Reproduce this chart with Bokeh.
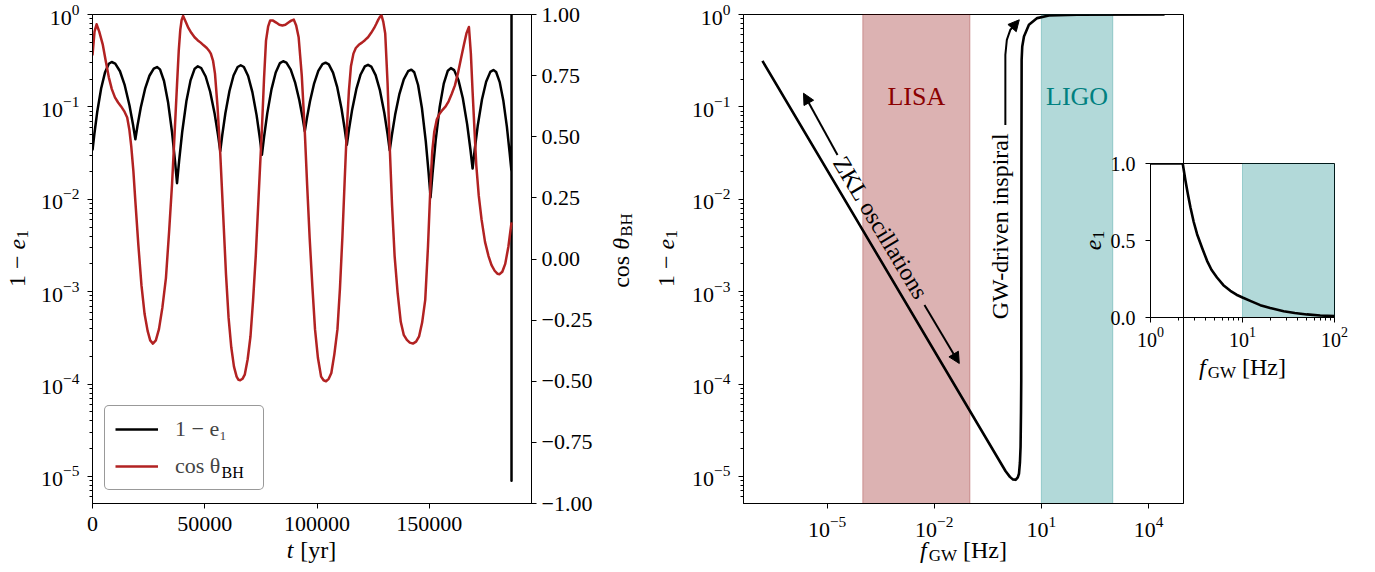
import math
from bokeh.plotting import figure
from bokeh.models import (Range1d, LinearAxis, LinearScale, FixedTicker, Label, Arrow,
                          NormalHead, BoxAnnotation, Legend, LegendItem, LogTickFormatter,
                          CustomJSTickFormatter)
from bokeh.layouts import row
from bokeh.embed import file_html
from bokeh.resources import INLINE

FONT = "Liberation Serif"

# ---------------- data: left panel ----------------
t_black = [0, 855, 2136, 3845, 5554, 7263, 8545, 10127, 12236, 14345, 16454, 18036, 19090,
           20054, 21500, 23428, 25356, 27284, 28730, 30067, 31849, 33631, 35413, 36749, 37640,
           38566, 39955, 41807, 43659, 45511, 46900, 48400, 50400, 52400, 54400, 55900, 56900,
           57810, 59175, 60995, 62815, 64635, 66000, 67418, 69308, 71198, 73088, 74505, 75450,
           76395, 77813, 79703, 81593, 83483, 84900, 86347, 88276, 90205, 92134, 93581, 94545,
           95471, 96859, 98710, 100561, 102412, 103800, 105221, 107115, 109009, 110903, 112323,
           113270, 114213, 115628, 117514, 119400, 121286, 122700, 124149, 126081, 128013,
           129945, 131394, 132360, 133324, 134770, 136698, 138626, 140554, 142000, 143282,
           144991, 146700, 148409, 149691, 150545, 151451, 152809, 154620, 156431, 158242,
           159600, 161051, 162985, 164919, 166853, 168303, 169270, 170198, 171589, 173444,
           175299, 177154, 178545, 179745, 181345, 182945, 184545, 185745, 186600, 186600,
           186600]
# log10(1 - e1)
log10_one_minus_e_black = [
    -1.47, -1.288, -1.049, -0.801, -0.629, -0.533, -0.514,
    -0.531, -0.614, -0.765, -0.982, -1.191, -1.35,
    -1.202, -1.006, -0.803, -0.663, -0.585, -0.569,
    -0.594, -0.720, -0.946, -1.273, -1.587, -1.826,
    -1.586, -1.269, -0.940, -0.713, -0.586, -0.561,
    -0.579, -0.671, -0.836, -1.075, -1.304, -1.478,
    -1.301, -1.069, -0.828, -0.660, -0.568, -0.549,
    -0.568, -0.665, -0.840, -1.092, -1.334, -1.518,
    -1.326, -1.073, -0.810, -0.627, -0.526, -0.506,
    -0.521, -0.597, -0.734, -0.931, -1.121, -1.265,
    -1.124, -0.938, -0.745, -0.611, -0.537, -0.522,
    -0.540, -0.629, -0.789, -1.020, -1.242, -1.411,
    -1.246, -1.030, -0.805, -0.649, -0.562, -0.545,
    -0.563, -0.656, -0.822, -1.063, -1.294, -1.47,
    -1.304, -1.086, -0.859, -0.702, -0.614, -0.597,
    -0.625, -0.763, -1.012, -1.371, -1.717, -1.98,
    -1.714, -1.364, -1.00, -0.748, -0.608, -0.58,
    -0.602, -0.711, -0.906, -1.189, -1.461, -1.668,
    -1.465, -1.198, -0.920, -0.728, -0.621, -0.60,
    -0.622, -0.732, -0.93, -1.216, -1.491, -1.7, -5.046, 0.0]
one_minus_e_black = [10 ** v for v in log10_one_minus_e_black]

t_red = [0, 900, 1818, 3000, 4545, 5900, 7270, 8600, 10000, 11400, 12730, 14100, 15450, 16400,
         17270, 18200, 19090, 20400, 21800, 23200, 24545, 25700, 26900, 28200, 29600, 31100,
         32700, 34100, 35450, 36600, 37640, 38400, 39090, 39700, 40360, 41500, 42700, 44000,
         45450, 46800, 48180, 49500, 50900, 51800, 52700, 53700, 54545, 55700, 56900, 58200,
         59450, 60600, 61800, 63000, 64180, 65000, 65800, 66800, 67800, 69100, 70360, 71500,
         72700, 74100, 75450, 76400, 77270, 78200, 79090, 80400, 81800, 83200, 84545, 85900,
         87270, 88500, 89640, 90700, 91800, 93200, 94545, 95600, 96700, 97900, 99090, 100400,
         101800, 102900, 104000, 105200, 106360, 107700, 109090, 110200, 111270, 112300,
         113270, 114200, 115090, 116200, 117270, 118600, 120000, 121300, 122700, 124100,
         125450, 126400, 127270, 128000, 128700, 129500, 130360, 131400, 132360, 133400,
         134545, 135900, 137270, 138600, 140000, 141300, 142700, 144100, 145450, 146800,
         148180, 149400, 150545, 151300, 152180, 153300, 154545, 155900, 157270, 158600,
         160000, 161400, 162700, 164100, 165450, 166600, 167640, 168500, 169270, 170100,
         170900, 172000, 173270, 174800, 176360, 177700, 179090, 180300, 181300, 182500,
         183800, 185200, 186600]
cos_theta_red = [0.833, 0.93, 0.96, 0.93, 0.878, 0.81, 0.743, 0.695, 0.661, 0.64, 0.624, 0.605,
                 0.579, 0.53, 0.46, 0.36, 0.236, 0.06, -0.107, -0.225, -0.294, -0.333, -0.346,
                 -0.333, -0.287, -0.2, -0.078, 0.11, 0.31, 0.52, 0.713, 0.85, 0.937, 0.978,
                 0.994, 0.97, 0.945, 0.925, 0.907, 0.895, 0.885, 0.874, 0.863, 0.853, 0.84,
                 0.81, 0.758, 0.62, 0.43, 0.18, -0.063, -0.24, -0.361, -0.44, -0.481, -0.494,
                 -0.496, -0.49, -0.473, -0.41, -0.316, -0.17, 0.012, 0.28, 0.534, 0.74, 0.893,
                 0.95, 0.975, 0.975, 0.967, 0.958, 0.955, 0.958, 0.967, 0.975, 0.979, 0.955,
                 0.907, 0.75, 0.52, 0.30, 0.087, -0.11, -0.287, -0.405, -0.481, -0.496, -0.50,
                 -0.49, -0.466, -0.39, -0.287, -0.12, 0.087, 0.32, 0.534, 0.69, 0.788, 0.84,
                 0.863, 0.876, 0.885, 0.895, 0.907, 0.925, 0.945, 0.962, 0.979, 0.99, 0.997,
                 0.97, 0.922, 0.72, 0.46, 0.22, 0.012, -0.14, -0.257, -0.31, -0.331, -0.342,
                 -0.346, -0.338, -0.316, -0.26, -0.167, 0.05, 0.31, 0.44, 0.519, 0.57, 0.594,
                 0.61, 0.624, 0.645, 0.676, 0.71, 0.758, 0.82, 0.878, 0.925, 0.949, 0.84,
                 0.684, 0.53, 0.385, 0.26, 0.161, 0.07, 0.012, -0.025, -0.048, -0.06, -0.062,
                 -0.052, -0.02, 0.05, 0.15]

# ---------------- data: right panel ----------------
f_main = [1.55e-7, 1.0, 1.318, 1.585, 1.901, 2.188, 2.36, 2.512, 2.618, 2.692, 2.735, 2.754,
          2.767, 2.805, 2.917, 3.258, 4.487, 7.638, 16.22, 100.0, 28180.0]
one_minus_e_main = [0.315, 1.14e-5, 9.9e-6, 9.3e-6, 9.2e-6, 9.8e-6, 1.07e-5, 1.41e-5, 2.1e-5,
                    5e-5, 1.1e-4, 3e-3, 0.028, 0.324, 0.45, 0.578, 0.773, 0.914, 0.975,
                    0.993, 0.999]

f_inset = [1.0, 2.24, 2.40, 2.55, 2.72, 2.95, 3.21, 3.65, 4.12, 4.6, 5.28, 6.2, 7.38, 8.6,
           10.0, 12.5, 15.6, 20.0, 28.0, 37.0, 50.0, 70.0, 100.0]
e_inset = [1.0, 1.0, 0.888, 0.80, 0.714, 0.62, 0.541, 0.45, 0.368, 0.31, 0.260, 0.21, 0.173,
           0.148, 0.130, 0.105, 0.080, 0.062, 0.041, 0.029, 0.020, 0.013, 0.009]

lisa_band = (1e-4, 1e-1)
ligo_band = (10.0, 1000.0)

left_xticks = [0, 50000, 100000, 150000]
log_yticks = [1e-5, 1e-4, 1e-3, 1e-2, 1e-1, 1.0]
cos_ticks = [-1.0, -0.75, -0.5, -0.25, 0.0, 0.25, 0.5, 0.75, 1.0]
right_xticks = [1e-5, 1e-2, 1e1, 1e4]
inset_xticks = [1.0, 10.0, 100.0]
inset_yticks = [0.0, 0.5, 1.0]

# ---------------- helpers ----------------
W_REG = {' ': .25, '1': .5, '0': .5, '−': .564, '[': .333, ']': .333, 'y': .5, 'r': .333,
         'H': .722, 'z': .444, 'c': .444, 'o': .5, 's': .389, 'B': .667, 'G': .722, 'W': .944}
W_IT = {'e': .444, 't': .278, 'f': .278, 'θ': .5}


def text_w(s, size, italic):
    tbl = W_IT if italic else W_REG
    return sum(tbl.get(c, 0.5) for c in s) * size


def style_axis(ax, size="22px", standoff=6):
    ax.axis_line_color = "black"
    ax.axis_line_width = 1
    ax.major_tick_line_color = "black"
    ax.major_tick_out = 5
    ax.major_tick_in = 0
    ax.minor_tick_line_color = "black"
    ax.minor_tick_out = 3
    ax.minor_tick_in = 0
    ax.major_label_text_font = FONT
    ax.major_label_text_font_size = size
    ax.major_label_text_color = "black"
    ax.major_label_standoff = standoff


def log_minor(lo, hi):
    return [k * 10.0 ** n for n in range(lo, hi) for k in range(2, 10)]


YMIN, YMAX = 5.1e-6, 1.0

# ---------------- left panel ----------------
p1 = figure(width=648, height=572, y_axis_type="log", title=None,
            x_range=Range1d(0, 195500), y_range=Range1d(YMIN, YMAX),
            toolbar_location=None, output_backend="svg",
            min_border_left=92, min_border_right=117, min_border_top=14, min_border_bottom=69)
p1.extra_y_ranges = {"cos": Range1d(-1.0, 1.0)}
p1.extra_y_scales = {"cos": LinearScale()}
p1.grid.visible = False
p1.outline_line_color = "black"
p1.outline_line_alpha = 1.0

r_black = p1.line(t_black, one_minus_e_black, line_color="black", line_width=2.5,
                  line_join="round")
r_red = p1.line(t_red, cos_theta_red, y_range_name="cos", line_color="#b22222",
                line_width=2.5, line_join="round")

p1.xaxis.ticker = FixedTicker(ticks=left_xticks, minor_ticks=[])
p1.xaxis.formatter = CustomJSTickFormatter(code="return tick.toFixed(0);")
p1.yaxis.ticker = FixedTicker(ticks=log_yticks, minor_ticks=log_minor(-6, 0))
p1.yaxis.formatter = LogTickFormatter()
style_axis(p1.xaxis[0], standoff=8)
style_axis(p1.yaxis[0], standoff=8)

cos_axis = LinearAxis(y_range_name="cos", ticker=FixedTicker(ticks=cos_ticks, minor_ticks=[]),
                      formatter=CustomJSTickFormatter(
                          code="return (tick < 0 ? '\u2212' : '') + Math.abs(tick).toFixed(2);"))
style_axis(cos_axis, standoff=5)
p1.add_layout(cos_axis, "right")

legend = Legend(items=[LegendItem(label="1 − e₁", renderers=[r_black]),
                       LegendItem(label="cos θ", renderers=[r_red])],
                location=(12, 13), padding=10, spacing=11, margin=0,
                glyph_width=43, glyph_height=26, label_height=26, label_width=78,
                label_standoff=17, label_text_font=FONT, label_text_font_size="22px",
                border_line_color="#333333", border_line_width=1.2,
                background_fill_color="white", background_fill_alpha=1.0)
try:
    legend.border_radius = 5
except Exception:
    pass
p1.add_layout(legend)

# ---------------- right panel ----------------
XMIN2, XMAX2 = 10 ** -7.34, 10 ** 4.98
p2 = figure(width=545, height=572, x_axis_type="log", y_axis_type="log", title=None,
            x_range=Range1d(XMIN2, XMAX2), y_range=Range1d(YMIN, YMAX),
            toolbar_location=None, output_backend="svg",
            min_border_left=95, min_border_right=10, min_border_top=14, min_border_bottom=69)
p2.grid.visible = False
p2.outline_line_color = "black"
p2.outline_line_alpha = 1.0

p2.add_layout(BoxAnnotation(left=lisa_band[0], right=lisa_band[1], fill_color="#8b0000",
                            fill_alpha=0.3, line_color="#8b0000", line_alpha=0.3,
                            line_width=1, level="underlay"))
p2.add_layout(BoxAnnotation(left=ligo_band[0], right=ligo_band[1], fill_color="#008080",
                            fill_alpha=0.3, line_color="#008080", line_alpha=0.3,
                            line_width=1, level="underlay"))

p2.line(f_main, one_minus_e_main, line_color="black", line_width=2.6, line_join="round")

p2.xaxis.ticker = FixedTicker(ticks=right_xticks, minor_ticks=[])
p2.xaxis.formatter = LogTickFormatter()
p2.yaxis.ticker = FixedTicker(ticks=log_yticks, minor_ticks=log_minor(-6, 0))
p2.yaxis.formatter = LogTickFormatter()
style_axis(p2.xaxis[0], standoff=8)
style_axis(p2.yaxis[0], standoff=8)

p2.add_layout(Label(x=10 ** -2.5, y=0.13, text="LISA", text_font=FONT, text_font_size="26px",
                    text_align="center", text_baseline="middle", text_color="#8b0000"))
p2.add_layout(Label(x=100.0, y=0.13, text="LIGO", text_font=FONT, text_font_size="26px",
                    text_align="center", text_baseline="middle", text_color="#008080"))
p2.add_layout(Label(x=3.2e-4, y=4.9e-3, text="ZKL oscillations", angle=-math.radians(59),
                    text_font=FONT, text_font_size="24px", text_align="center",
                    text_baseline="middle", text_color="black"))
p2.add_layout(Label(x=0.711, y=5.1e-3, text="GW-driven inspiral", angle=math.pi / 2,
                    text_font=FONT, text_font_size="24px", text_align="center",
                    text_baseline="middle", text_color="black"))

head = dict(size=11, fill_color="black", line_color="black")
p2.add_layout(Arrow(end=NormalHead(**head), x_start=10 ** -4.708, y_start=10 ** -1.52,
                    x_end=10 ** -5.66, y_end=10 ** -0.852, line_width=2))
p2.add_layout(Arrow(end=NormalHead(**head), x_start=10 ** -2.273, y_start=10 ** -3.145,
                    x_end=10 ** -1.298, y_end=10 ** -3.777, line_width=2))
p2.line([0.982, 0.982, 1.08, 1.35, 1.54], [0.0638, 0.366, 0.532, 0.683, 0.718],
        line_color="black", line_width=2)
p2.add_layout(Arrow(end=NormalHead(**head), x_start=1.54, y_start=0.718,
                    x_end=2.41, y_end=0.877, line_width=2))

# ---------------- inset ----------------
p3 = figure(width=289, height=236, x_axis_type="log", title=None,
            x_range=Range1d(1.0, 100.0), y_range=Range1d(0.0, 1.0),
            toolbar_location=None, output_backend="svg",
            min_border_left=80, min_border_right=25, min_border_top=12, min_border_bottom=70,
            styles={"position": "absolute", "left": "1070px", "top": "151px"})
p3.grid.visible = False
p3.background_fill_alpha = 0.0
p3.border_fill_alpha = 0.0
p3.outline_line_color = "black"
p3.outline_line_alpha = 1.0
p3.add_layout(BoxAnnotation(left=10.0, right=100.0, fill_color="#008080", fill_alpha=0.3,
                            line_color="#008080", line_alpha=0.3, line_width=1,
                            level="underlay"))
p3.line(f_inset, e_inset, line_color="black", line_width=2.6, line_join="round")
p3.xaxis.ticker = FixedTicker(ticks=inset_xticks, minor_ticks=log_minor(0, 2))
p3.xaxis.formatter = LogTickFormatter()
p3.yaxis.ticker = FixedTicker(ticks=inset_yticks, minor_ticks=[])
p3.yaxis.formatter = CustomJSTickFormatter(code="return tick.toFixed(1);")
style_axis(p3.xaxis[0], size="20px", standoff=4)
style_axis(p3.yaxis[0], size="20px", standoff=10)

# ---------------- text overlay (axis labels with sub-scripts) ----------------
ov = figure(width=1375, height=572, x_range=Range1d(0, 1375), y_range=Range1d(572, 0),
            x_axis_location=None, y_axis_location=None, title=None,
            toolbar_location=None, output_backend="svg", min_border=0,
            styles={"position": "absolute", "left": "0px", "top": "0px"})
ov.grid.visible = False
ov.outline_line_color = None
ov.background_fill_alpha = 0.0
ov.border_fill_alpha = 0.0


def rich(cx, cy, pieces, angle=0.0, base=24):
    # pieces: (text, size_px, italic, baseline_drop_px, gap_after_px); cx, cy in window px
    total = sum(text_w(t, s, it) + g for t, s, it, d, g in pieces)
    ca, sa = math.cos(angle), math.sin(angle)
    a = -total / 2.0
    d0 = 0.32 * base
    for t, s, it, d, g in pieces:
        dd = d0 + d
        x = cx + a * ca + dd * sa
        y = cy - a * sa + dd * ca
        ov.add_layout(Label(x=x, y=y, text=t, angle=angle, text_font=FONT,
                            text_font_size=f"{s}px",
                            text_font_style="italic" if it else "normal",
                            text_align="left", text_baseline="alphabetic",
                            text_color="black"))
        a += text_w(t, s, it) + g


LBL_T = [("t", 24, True, 0, 7), ("[yr]", 24, False, 0, 0)]
LBL_F = [("f", 24, True, 0, 2), ("GW", 17, False, 5, 6), ("[Hz]", 24, False, 0, 0)]
LBL_OME = [("1 −", 24, False, 0, 6), ("e", 24, True, 0, 0.5), ("1", 17, False, 5, 0)]
LBL_COS = [("cos", 24, False, 0, 6), ("θ", 24, True, 0, 1), ("BH", 17, False, 5, 0)]
LBL_E1 = [("e", 24, True, 0, 0.5), ("1", 17, False, 5, 0)]

rich(311, 542, LBL_T)
rich(9, 258, LBL_OME, angle=math.pi / 2)
rich(613, 250, LBL_COS, angle=math.pi / 2)
rich(963, 542, LBL_F)
rich(658, 258, LBL_OME, angle=math.pi / 2)
rich(1242, 359, LBL_F)
rich(1085, 240, LBL_E1, angle=math.pi / 2)
ov.add_layout(Label(x=221, y=472, text="BH", text_font=FONT, text_font_size="16px",
                    text_align="left", text_baseline="alphabetic", text_color="black"))

layout = row(p1, p2)
open("out.html", "w").write(file_html([layout, p3, ov], INLINE, title="plot"))
